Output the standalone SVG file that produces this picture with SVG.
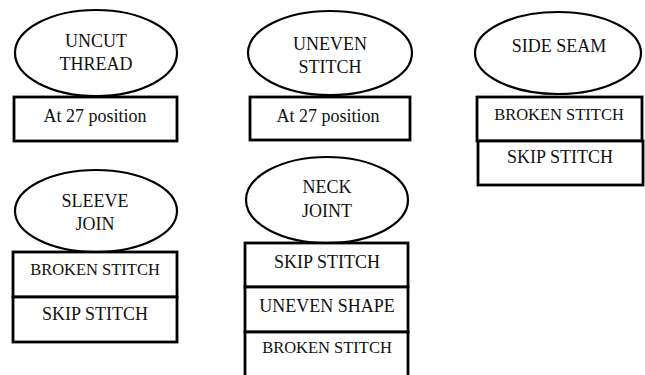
<svg xmlns="http://www.w3.org/2000/svg" width="645" height="375" viewBox="0 0 645 375">
<style>
.e{fill:#fff;stroke:#000;stroke-width:2.2}
.r{fill:#fff;stroke:#000;stroke-width:2.8}
text{font-family:"Liberation Serif","Times New Roman",serif;font-size:18px;fill:#111;text-anchor:middle}
.s{font-size:16.5px}
</style>
<rect width="645" height="375" fill="#fff"/>
<g id="uncut-thread">
<ellipse class="e" cx="96" cy="53" rx="81" ry="43"/>
<text x="96" y="47">UNCUT</text>
<text x="96" y="70">THREAD</text>
<rect class="r" x="14" y="97" width="163" height="44"/>
<text x="95" y="122">At 27 position</text>
</g>
<g id="uneven-stitch">
<ellipse class="e" cx="330" cy="53" rx="82" ry="42"/>
<text x="330" y="50">UNEVEN</text>
<text x="330" y="73">STITCH</text>
<rect class="r" x="250" y="97" width="160" height="43"/>
<text x="328" y="122">At 27 position</text>
</g>
<g id="side-seam">
<ellipse class="e" cx="558" cy="53" rx="83" ry="41"/>
<text x="559" y="52">SIDE SEAM</text>
<rect class="r" x="477" y="97" width="165" height="44"/>
<text class="s" x="559" y="120">BROKEN STITCH</text>
<rect class="r" x="478" y="141" width="165" height="44"/>
<text x="560" y="163">SKIP STITCH</text>
</g>
<g id="sleeve-join">
<ellipse class="e" cx="96" cy="211" rx="81" ry="41"/>
<text x="95" y="207">SLEEVE</text>
<text x="95" y="230">JOIN</text>
<rect class="r" x="13" y="252" width="164" height="45"/>
<text class="s" x="95" y="275">BROKEN STITCH</text>
<rect class="r" x="13" y="297" width="164" height="45"/>
<text x="95" y="320">SKIP STITCH</text>
</g>
<g id="neck-joint">
<ellipse class="e" cx="327" cy="200" rx="81" ry="43"/>
<text x="327" y="193">NECK</text>
<text x="327" y="217">JOINT</text>
<rect class="r" x="245" y="243" width="163" height="44"/>
<text x="327" y="268">SKIP STITCH</text>
<rect class="r" x="245" y="287" width="163" height="45"/>
<text x="327" y="312">UNEVEN SHAPE</text>
<rect class="r" x="245" y="332" width="163" height="46"/>
<text class="s" x="327" y="353">BROKEN STITCH</text>
</g>
</svg>
